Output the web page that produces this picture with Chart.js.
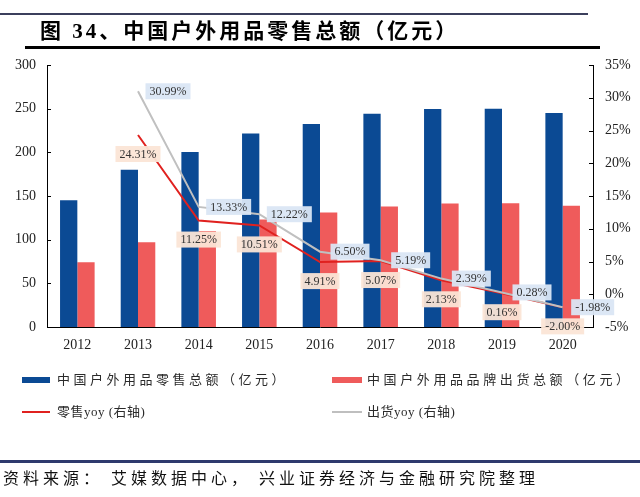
<!DOCTYPE html>
<html>
<head>
<meta charset="utf-8">
<script src="https://cdn.jsdelivr.net/npm/chart.js@4/dist/chart.umd.min.js"></script>
<style>
  html, body { margin:0; padding:0; background:#fff; }
  body { width:640px; height:497px; position:relative; overflow:hidden; }
  #wrap { position:absolute; left:0; top:0; width:640px; height:497px; }
  .abs { position:absolute; white-space:nowrap; }
  #topline { left:0; top:13px; width:588px; height:2px; background:#3b3f5c; }
  #title { left:40px; top:17px; font-family:"Liberation Serif","Noto Sans CJK SC",serif; font-weight:bold; font-size:21px; letter-spacing:3px; color:#000; line-height:28px; }
  #titleline { left:25px; top:46px; width:575px; height:3px; background:#000; }
  .leg { font-family:"Liberation Serif","Noto Sans CJK SC",serif; font-size:13px; color:#2a2a2a; line-height:18px; }
  .sw { position:absolute; }
  #footline { left:0; top:460px; width:640px; height:3px; background:#2e3a6e; }
  #foot { left:3px; top:466px; font-family:"Noto Sans CJK SC",sans-serif; font-size:16px; letter-spacing:4px; color:#111; line-height:22px; }
  #foot span.p { margin-right:8px; }
</style>
</head>
<body>
<div id="wrap"><canvas id="c" width="640" height="497"></canvas></div>
<div class="abs" id="topline"></div>
<div class="abs" id="title">图 34、中国户外用品零售总额（亿元）</div>
<div class="abs" id="titleline"></div>

<div class="sw" style="left:22px;top:377px;width:28px;height:6px;background:#0b4a94"></div>
<div class="abs leg" id="l1" style="left:57px;top:371px;letter-spacing:3.5px">中国户外用品零售总额（亿元）</div>
<div class="sw" style="left:332px;top:377px;width:30px;height:6px;background:#ef5b5b"></div>
<div class="abs leg" id="l2" style="left:367px;top:371px;letter-spacing:3.6px">中国户外用品品牌出货总额（亿元）</div>
<div class="sw" style="left:22px;top:411px;width:28px;height:2px;background:#e0211f"></div>
<div class="abs leg" id="l3" style="left:57px;top:403px;letter-spacing:0.5px">零售yoy (右轴)</div>
<div class="sw" style="left:332px;top:411px;width:30px;height:2px;background:#bfbfbf"></div>
<div class="abs leg" id="l4" style="left:367px;top:403px;letter-spacing:0.5px">出货yoy (右轴)</div>

<div class="abs" id="footline"></div>
<div class="abs" id="foot">资料来源<span class="p">：</span>艾媒数据中心<span class="p">，</span>兴业证券经济与金融研究院整理</div>

<script>
const years = ['2012','2013','2014','2015','2016','2017','2018','2019','2020'];
const retailTotal = [145, 180.2, 200.5, 221.6, 232.5, 244.3, 249.5, 249.9, 244.9];
const shipTotal = [74, 96.9, 109.8, 123.2, 131.2, 138.0, 141.3, 141.7, 138.9];
const retailYoy = [null, 24.31, 11.25, 10.51, 4.91, 5.07, 2.13, 0.16, -2.00];
const shipYoy = [null, 30.99, 13.33, 12.22, 6.50, 5.19, 2.39, 0.28, -1.98];
const leftTicks = [0, 50, 100, 150, 200, 250, 300];
const rightTicks = [-5, 0, 5, 10, 15, 20, 25, 30, 35];

const serif = '"Liberation Serif", "Times New Roman", serif';

const labelPlugin = {
  id: 'yoyLabels',
  afterDatasetsDraw(chart) {
    const ctx = chart.ctx;
    const specs = [
      { ds: 2, bg: 'rgba(251,229,214,0.95)', dx: 0, dy: 19 },
      { ds: 3, bg: 'rgba(218,230,244,0.95)', dx: 30, dy: 0 }
    ];
    ctx.save();
    ctx.font = '12px ' + serif;
    ctx.textAlign = 'center';
    ctx.textBaseline = 'middle';
    specs.forEach(s => {
      const meta = chart.getDatasetMeta(s.ds);
      const data = chart.data.datasets[s.ds].data;
      meta.data.forEach((pt, i) => {
        const v = data[i];
        if (v === null || v === undefined) return;
        const txt = v.toFixed(2) + '%';
        const x = pt.x + s.dx, y = pt.y + s.dy;
        const w = ctx.measureText(txt).width + 8, h = 16;
        ctx.fillStyle = s.bg;
        ctx.fillRect(x - w / 2, y - h / 2, w, h);
        ctx.fillStyle = '#333';
        ctx.fillText(txt, x, y + 0.5);
      });
    });
    ctx.restore();
  }
};

const tickPlugin = {
  id: 'innerTicks',
  afterDraw(chart) {
    const ctx = chart.ctx;
    const a = chart.chartArea;
    ctx.save();
    ctx.strokeStyle = '#000';
    ctx.lineWidth = 1;
    const yl = chart.scales.y, yr = chart.scales.y1;
    yl.ticks.forEach((t, i) => {
      const py = Math.round(yl.getPixelForTick(i)) + 0.5;
      ctx.beginPath(); ctx.moveTo(a.left, py); ctx.lineTo(a.left + 4, py); ctx.stroke();
    });
    yr.ticks.forEach((t, i) => {
      const py = Math.round(yr.getPixelForTick(i)) + 0.5;
      ctx.beginPath(); ctx.moveTo(a.right - 4, py); ctx.lineTo(a.right, py); ctx.stroke();
    });
    ctx.restore();
  }
};

new Chart(document.getElementById('c'), {
  data: {
    labels: years,
    datasets: [
      { type: 'bar', label: '中国户外用品零售总额（亿元）', data: retailTotal, backgroundColor: '#0b4a94', yAxisID: 'y', order: 3, categoryPercentage: 0.57, barPercentage: 1.0 },
      { type: 'bar', label: '中国户外用品品牌出货总额（亿元）', data: shipTotal, backgroundColor: '#ef5b5b', yAxisID: 'y', order: 3, categoryPercentage: 0.57, barPercentage: 1.0 },
      { type: 'line', label: '零售yoy (右轴)', data: retailYoy, borderColor: '#e0211f', borderWidth: 2, pointRadius: 0, yAxisID: 'y1', order: 2, tension: 0 },
      { type: 'line', label: '出货yoy (右轴)', data: shipYoy, borderColor: '#c0c0c0', borderWidth: 2, pointRadius: 0, yAxisID: 'y1', order: 1, tension: 0 }
    ]
  },
  options: {
    responsive: false,
    animation: false,
    devicePixelRatio: 1,
    layout: { padding: { top: 65, bottom: 140, left: 0, right: 0 } },
    plugins: { legend: { display: false }, tooltip: { enabled: false } },
    scales: {
      x: {
        grid: { display: false, drawTicks: false },
        border: { display: true, color: '#000', width: 1 },
        ticks: { color: '#222', font: { family: serif, size: 14 }, padding: 10, maxRotation: 0 },
        afterFit(s) { s.height = 30; }
      },
      y: {
        position: 'left', min: 0, max: 300,
        afterBuildTicks(s) { s.ticks = leftTicks.map(v => ({ value: v })); },
        grid: { display: false, drawTicks: false },
        border: { display: true, color: '#000', width: 1 },
        ticks: { color: '#222', font: { family: serif, size: 14 }, padding: 11 },
        afterFit(s) { s.width = 47; }
      },
      y1: {
        position: 'right', min: -5, max: 35,
        afterBuildTicks(s) { s.ticks = rightTicks.map(v => ({ value: v })); },
        grid: { display: false, drawTicks: false },
        border: { display: true, color: '#000', width: 1 },
        ticks: { color: '#222', font: { family: serif, size: 14 }, padding: 12, callback: v => v + '%' },
        afterFit(s) { s.width = 47; }
      }
    }
  },
  plugins: [labelPlugin, tickPlugin]
});
</script>
</body>
</html>
